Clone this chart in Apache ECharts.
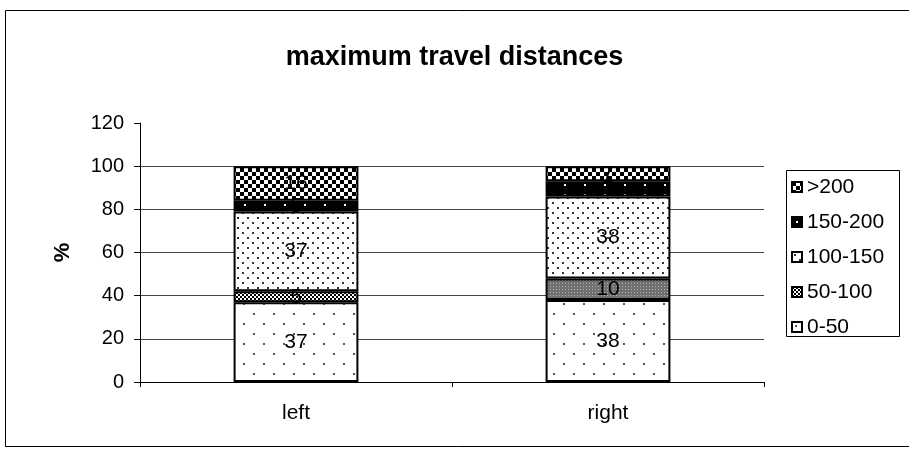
<!DOCTYPE html>
<html>
<head>
<meta charset="utf-8">
<script src="https://cdn.jsdelivr.net/npm/echarts@6/dist/echarts.min.js"></script>
<style>
  html, body { margin: 0; padding: 0; background: #fff; }
  #chart { width: 909px; height: 456px; }
</style>
</head>
<body>
<div id="chart"></div>
<script>
// Travel-distance shares per side, stacked bottom to top
const categories = ['left', 'right'];
const bands = ['0-50', '50-100', '100-150', '150-200', '>200'];
const share0to50 = [37, 38];
const share50to100 = [5, 10];
const share100to150 = [37, 38];
const share150to200 = [5, 7];
const shareOver200 = [16, 7];
const yTicks = [0, 20, 40, 60, 80, 100, 120];

const FONT = '"Liberation Sans", Arial, sans-serif';

// Small tiled fills for the hatched bar segments
function makeTile(w, h, draw) {
  const c = document.createElement('canvas');
  c.width = w; c.height = h;
  const g = c.getContext('2d');
  draw(g, w, h);
  return { image: c, repeat: 'repeat' };
}

const fillSparseDots = makeTile(20, 20, (g, w, h) => {
  g.fillStyle = '#fff'; g.fillRect(0, 0, w, h);
  g.fillStyle = '#555';
  g.fillRect(3, 3, 2, 2);
  g.fillRect(13, 13, 2, 2);
});
const fillChecker = makeTile(4, 4, (g, w, h) => {
  g.fillStyle = '#fff'; g.fillRect(0, 0, w, h);
  g.fillStyle = '#000';
  g.fillRect(0, 0, 2, 2);
  g.fillRect(2, 2, 2, 2);
});
const fillGrey = makeTile(3, 3, (g, w, h) => {
  g.fillStyle = '#707070'; g.fillRect(0, 0, w, h);
  g.fillStyle = '#b4b4b4';
  g.fillRect(1, 1, 1, 1);
});
const fillDenseDots = makeTile(10, 10, (g, w, h) => {
  g.fillStyle = '#fff'; g.fillRect(0, 0, w, h);
  g.fillStyle = '#333';
  g.fillRect(2, 2, 2, 2);
  g.fillRect(7, 7, 2, 2);
});
const fillBlackDots = makeTile(20, 10, (g, w, h) => {
  g.fillStyle = '#000'; g.fillRect(0, 0, w, h);
  g.fillStyle = '#fff';
  g.fillRect(4, 4, 2, 2);
});
const fillConfetti = makeTile(8, 8, (g, w, h) => {
  g.fillStyle = '#fff'; g.fillRect(0, 0, w, h);
  g.fillStyle = '#000';
  g.fillRect(0, 0, 4, 4);
  g.fillRect(4, 4, 4, 4);
});

const labelStyle = {
  show: true,
  position: 'inside',
  color: '#000',
  fontFamily: FONT,
  fontSize: 21
};

function band(name, values, fill, perItem) {
  return {
    name: name,
    type: 'bar',
    stack: 'total',
    barWidth: '40%',
    data: values.map((v, i) => perItem && perItem[i]
      ? { value: v, itemStyle: { color: perItem[i] } }
      : v),
    itemStyle: { color: fill, borderColor: '#000', borderWidth: 2 },
    label: labelStyle,
    emphasis: { disabled: true }
  };
}

const chart = echarts.init(document.getElementById('chart'), null, { renderer: 'canvas' });

chart.setOption({
  animation: false,
  backgroundColor: '#fff',
  title: {
    text: 'maximum travel distances',
    left: 'center',
    top: 39,
    textStyle: { fontFamily: FONT, fontSize: 27, fontWeight: 'bold', color: '#000' }
  },
  legend: {
    orient: 'vertical',
    left: 786,
    top: 170,
    padding: [6, 14, 0, 5],
    itemGap: 13,
    itemWidth: 10,
    itemHeight: 10,
    icon: 'rect',
    selectedMode: false,
    data: ['>200', '150-200', '100-150', '50-100', '0-50'],
    itemStyle: { borderColor: '#000', borderWidth: 2 },
    textStyle: { fontFamily: FONT, fontSize: 21, color: '#000', lineHeight: 22 }
  },
  grid: { left: 140, right: 145, top: 123, bottom: 74 },
  xAxis: {
    type: 'category',
    data: categories,
    axisLine: { lineStyle: { color: '#000', width: 1 } },
    axisTick: { show: true, length: 5, lineStyle: { color: '#000' } },
    axisLabel: { fontFamily: FONT, fontSize: 21, color: '#000', margin: 21 }
  },
  yAxis: {
    type: 'value',
    min: yTicks[0],
    max: yTicks[yTicks.length - 1],
    interval: yTicks[1] - yTicks[0],
    name: '%',
    nameLocation: 'middle',
    nameRotate: 90,
    nameGap: 66,
    nameTextStyle: { fontFamily: FONT, fontSize: 22, fontWeight: 'bold', color: '#000' },
    axisLine: { show: true, lineStyle: { color: '#000', width: 1 } },
    axisTick: { show: true, length: 6, lineStyle: { color: '#000' } },
    axisLabel: { fontFamily: FONT, fontSize: 20, color: '#000', margin: 16 },
    splitLine: { show: true, showMaxLine: false, lineStyle: { color: '#444', width: 1 } }
  },
  graphic: [{
    // outer chart frame
    type: 'rect',
    shape: { x: 5.5, y: 10.5, width: 910, height: 436 },
    style: { fill: null, stroke: '#000', lineWidth: 1 },
    silent: true,
    z: 0
  }, {
    // legend frame
    type: 'rect',
    shape: { x: 786.5, y: 170.5, width: 113, height: 166 },
    style: { fill: '#fff', stroke: '#000', lineWidth: 1 },
    silent: true,
    z: 0
  }],
  series: [
    band(bands[0], share0to50, fillSparseDots),
    band(bands[1], share50to100, fillChecker, [null, fillGrey]),
    band(bands[2], share100to150, fillDenseDots),
    band(bands[3], share150to200, fillBlackDots),
    band(bands[4], shareOver200, fillConfetti)
  ]
});
</script>
</body>
</html>
